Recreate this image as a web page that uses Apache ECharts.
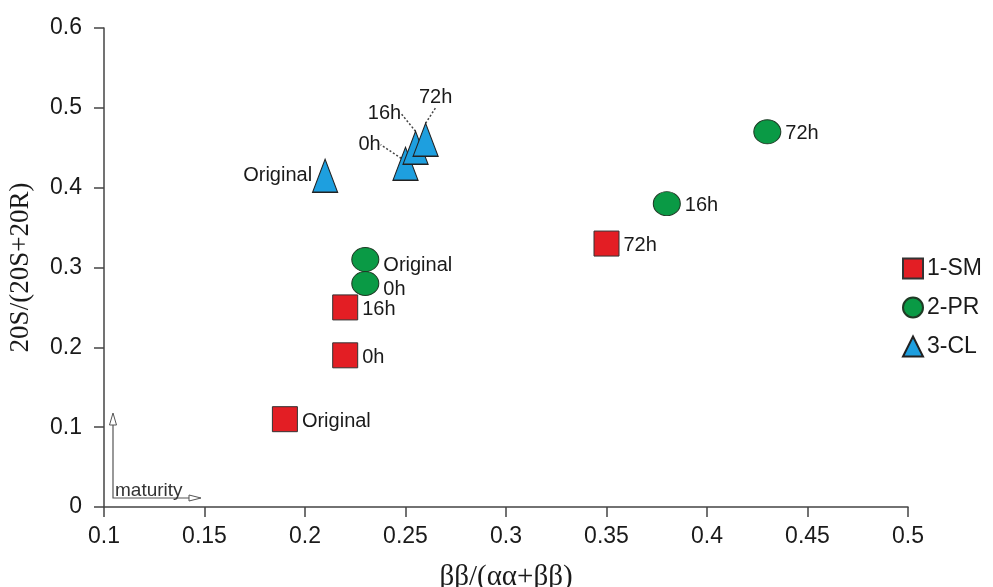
<!DOCTYPE html>
<html>
<head>
<meta charset="utf-8">
<script src="https://cdn.jsdelivr.net/npm/echarts@6/dist/echarts.min.js"></script>
<style>
  html, body { margin: 0; padding: 0; background: #fff; }
  #chart { width: 993px; height: 587px; }
</style>
</head>
<body>
<div id="chart"></div>
<script>
// Sterane maturity ratios for three samples, original and after heating
var sampleNames = ['1-SM', '2-PR', '3-CL'];
var stageNames = ['Original', '0h', '16h', '72h'];

// ββ/(αα+ββ)
var smBB = [0.19, 0.22, 0.22, 0.35];
var prBB = [0.23, 0.23, 0.38, 0.43];
var clBB = [0.21, 0.25, 0.255, 0.26];

// 20S/(20S+20R)
var sm20S = [0.11, 0.19, 0.25, 0.33];
var pr20S = [0.31, 0.28, 0.38, 0.47];
var cl20S = [0.415, 0.43, 0.45, 0.46];

var xTickLabels = ['0.1', '0.15', '0.2', '0.25', '0.3', '0.35', '0.4', '0.45', '0.5'];
var yTickLabels = ['0', '0.1', '0.2', '0.3', '0.4', '0.5', '0.6'];

var SANS = '"Liberation Sans", Arial, sans-serif';
var SERIF = '"Liberation Serif", "Times New Roman", serif';
var TXT = '#1a1a1a';

function points(xs, ys) {
  return xs.map(function (x, i) { return { value: [x, ys[i]], name: stageNames[i] }; });
}

// label shifts for the crowded 3-CL cluster (dx, dy from the symbol centre)
var clLabelShift = [null, [-36, -19], [-31, -34], [10, -42]];

var clData = points(clBB, cl20S).map(function (d, i) {
  if (i === 0) {
    d.label = { position: 'left', distance: 0, offset: [4, -8] };
  } else {
    d.label = { position: 'inside' };
    d.labelLine = { show: true };
  }
  return d;
});

var prData = points(prBB, pr20S).map(function (d, i) {
  if (i <= 1) d.label = { offset: [0, 6] };
  return d;
});

var baseLabel = {
  show: true,
  position: 'right',
  distance: 4,
  formatter: '{b}',
  color: TXT,
  fontFamily: SANS,
  fontSize: 20,
  offset: [0, 2]
};

var option = {
  backgroundColor: '#fff',
  animation: false,
  grid: { left: 104, right: 85, top: 28, bottom: 80, containLabel: false, outerBoundsMode: 'none' },
  xAxis: {
    type: 'value',
    min: 0.1, max: 0.5, interval: 0.05,
    name: 'ββ/(αα+ββ)',
    nameLocation: 'middle',
    nameGap: 56,
    nameTextStyle: { fontFamily: SERIF, fontSize: 29, color: TXT },
    axisLine: { show: true, lineStyle: { color: '#444', width: 1.5 } },
    axisTick: { show: true, inside: false, length: 10, lineStyle: { color: '#444', width: 1.5 } },
    axisLabel: {
      margin: 18, color: TXT, fontFamily: SANS, fontSize: 23,
      formatter: function (v, i) { return xTickLabels[i]; }
    },
    splitLine: { show: false }
  },
  yAxis: {
    type: 'value',
    min: 0, max: 0.6, interval: 0.1,
    name: '20S/(20S+20R)',
    nameLocation: 'middle',
    nameGap: 70,
    nameTextStyle: { fontFamily: SERIF, fontSize: 27, color: TXT },
    axisLine: { show: true, lineStyle: { color: '#444', width: 1.5 } },
    axisTick: { show: true, inside: false, length: 10, lineStyle: { color: '#444', width: 1.5 } },
    axisLabel: {
      margin: 22, color: TXT, fontFamily: SANS, fontSize: 23,
      formatter: function (v, i) { return yTickLabels[i]; }
    },
    splitLine: { show: false }
  },
  legend: {
    orient: 'vertical',
    left: 897,
    top: 252,
    itemWidth: 20,
    itemHeight: 20,
    itemGap: 16,
    textStyle: { color: TXT, fontFamily: SANS, fontSize: 23, padding: [0, 0, 0, -1] },
    data: [
      { name: sampleNames[0], icon: 'rect' },
      { name: sampleNames[1], icon: 'circle' },
      { name: sampleNames[2], icon: 'triangle' }
    ]
  },
  series: [
    {
      name: sampleNames[0],
      type: 'scatter',
      symbol: 'rect',
      symbolSize: 25,
      itemStyle: { color: '#E31E24', borderColor: '#333', borderWidth: 1, opacity: 1 },
      label: baseLabel,
      data: points(smBB, sm20S)
    },
    {
      name: sampleNames[1],
      type: 'scatter',
      symbol: 'circle',
      symbolSize: [27, 24],
      itemStyle: { color: '#0A9A45', borderColor: '#1f3a25', borderWidth: 1, opacity: 1 },
      label: baseLabel,
      data: prData
    },
    {
      name: sampleNames[2],
      type: 'scatter',
      symbol: 'triangle',
      symbolSize: [25, 33],
      itemStyle: { color: '#1E9FDF', borderColor: '#222', borderWidth: 1.2, opacity: 1 },
      label: baseLabel,
      labelLine: {
        show: false,
        lineStyle: { color: '#444', width: 1.5, type: [2, 2] }
      },
      labelLayout: function (p) {
        var s = clLabelShift[p.dataIndex];
        return s ? { dx: s[0], dy: s[1] } : {};
      },
      data: clData
    }
  ],
  // "maturity" direction arrows in the lower-left corner of the plot
  graphic: [
    {
      type: 'polyline',
      shape: { points: [[113, 425], [113, 498], [190, 498]] },
      style: { stroke: '#555', lineWidth: 1.2, fill: null },
      silent: true
    },
    {
      type: 'polygon',
      shape: { points: [[113, 413], [109.5, 425], [116.5, 425]] },
      style: { stroke: '#555', lineWidth: 1, fill: '#fff' },
      silent: true
    },
    {
      type: 'polygon',
      shape: { points: [[201, 498], [189, 495], [189, 501]] },
      style: { stroke: '#555', lineWidth: 1, fill: '#fff' },
      silent: true
    },
    {
      type: 'text',
      left: 115,
      top: 481,
      style: { text: 'maturity', fill: '#333', font: '19px ' + SANS },
      silent: true
    }
  ]
};

var chart = echarts.init(document.getElementById('chart'), null, { renderer: 'canvas' });
chart.setOption(option);
</script>
</body>
</html>
